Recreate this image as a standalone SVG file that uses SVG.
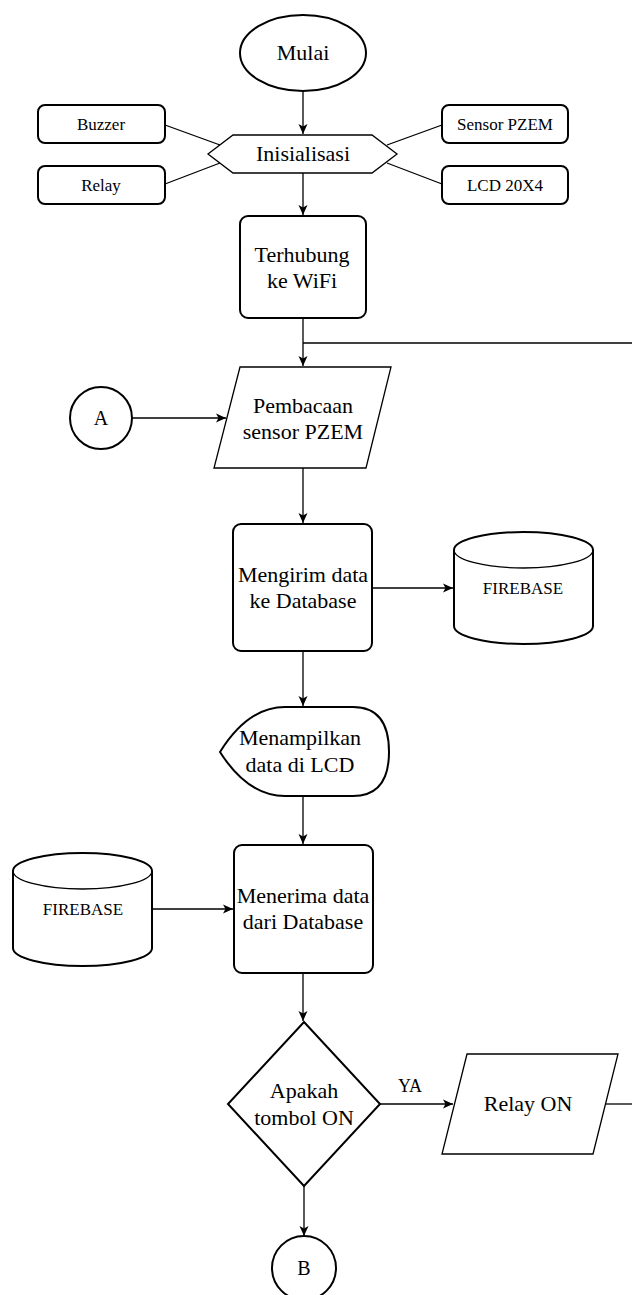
<svg xmlns="http://www.w3.org/2000/svg" width="632" height="1295" viewBox="0 0 632 1295" font-family="'Liberation Serif', 'Times New Roman', serif">
<style>
.s{fill:#fff;stroke:#000;stroke-width:2}
.t{fill:#fff;stroke:#000;stroke-width:1.3}
.c{fill:none;stroke:#000;stroke-width:1.3}
text{font-family:'Liberation Serif','Times New Roman',serif;fill:#000;text-anchor:middle}
.l{font-family:'Liberation Serif','Times New Roman',serif;font-size:22px}
.m{font-family:'Liberation Serif','Times New Roman',serif;font-size:17px}
.k{font-family:'Liberation Serif','Times New Roman',serif;font-size:20px}
</style>
<defs>
<marker id="ar" markerWidth="11" markerHeight="10" refX="10" refY="5" orient="auto" markerUnits="userSpaceOnUse">
<path d="M0,0.5 L10,5 L0,9.5 L2.5,5 Z" fill="#000"/>
</marker>
</defs>
<rect width="632" height="1295" fill="#fff"/>
<g id="connectors">
<line class="c" x1="303" y1="91" x2="303" y2="134" marker-end="url(#ar)"/>
<line class="c" x1="303" y1="173" x2="303" y2="215" marker-end="url(#ar)"/>
<line class="c" x1="165" y1="125" x2="220" y2="145"/>
<line class="c" x1="165" y1="184" x2="220" y2="163"/>
<line class="c" x1="442" y1="125" x2="387" y2="145"/>
<line class="c" x1="442" y1="184" x2="387" y2="163"/>
<line class="c" x1="303" y1="318" x2="303" y2="366" marker-end="url(#ar)"/>
<line class="c" x1="303" y1="343" x2="632" y2="343"/>
<line class="c" x1="132" y1="418" x2="226" y2="418" marker-end="url(#ar)"/>
<line class="c" x1="303" y1="468" x2="303" y2="523" marker-end="url(#ar)"/>
<line class="c" x1="372" y1="588" x2="453" y2="588" marker-end="url(#ar)"/>
<line class="c" x1="303" y1="651" x2="303" y2="706" marker-end="url(#ar)"/>
<line class="c" x1="303" y1="796" x2="303" y2="844" marker-end="url(#ar)"/>
<line class="c" x1="152" y1="909" x2="233" y2="909" marker-end="url(#ar)"/>
<line class="c" x1="303" y1="973" x2="303" y2="1021" marker-end="url(#ar)"/>
<line class="c" x1="380" y1="1104" x2="453" y2="1104" marker-end="url(#ar)"/>
<line class="c" x1="605" y1="1104" x2="632" y2="1104"/>
<line class="c" x1="304" y1="1186" x2="304" y2="1236" marker-end="url(#ar)"/>
<text class="k" x="410" y="1092" style="font-size:18px">YA</text>
</g>
<g id="mulai">
<ellipse class="s" cx="303" cy="53" rx="63" ry="38"/>
<text class="l" x="303" y="60">Mulai</text>
</g>
<g id="inisialisasi">
<polygon class="t" points="208,154 233,135 372,135 397,154 372,173 233,173"/>
<text class="l" x="303" y="161">Inisialisasi</text>
</g>
<g id="buzzer">
<rect class="s" x="38" y="105" width="127" height="38" rx="7"/>
<text class="m" x="101" y="130">Buzzer</text>
</g>
<g id="relay">
<rect class="s" x="38" y="166" width="127" height="38" rx="7"/>
<text class="m" x="101" y="191">Relay</text>
</g>
<g id="sensor-pzem">
<rect class="s" x="442" y="105" width="126" height="38" rx="7"/>
<text class="m" x="505" y="130">Sensor PZEM</text>
</g>
<g id="lcd">
<rect class="s" x="442" y="166" width="126" height="38" rx="7"/>
<text class="m" x="505" y="191">LCD 20X4</text>
</g>
<g id="wifi">
<rect class="s" x="240" y="216" width="126" height="102" rx="8"/>
<text class="l" x="302" y="262">Terhubung</text>
<text class="l" x="302" y="288">ke WiFi</text>
</g>
<g id="a">
<circle class="s" cx="101" cy="418" r="31"/>
<text class="k" x="101" y="425">A</text>
</g>
<g id="pembacaan">
<polygon class="t" points="240,367 391,367 366,468 214,468"/>
<text class="l" x="303" y="413">Pembacaan</text>
<text class="l" x="303" y="439">sensor PZEM</text>
</g>
<g id="mengirim">
<rect class="s" x="233" y="524" width="139" height="127" rx="8"/>
<text class="l" x="303" y="582">Mengirim data</text>
<text class="l" x="303" y="608">ke Database</text>
</g>
<g id="firebase1">
<path class="s" d="M454,550 A69.5,18 0 0 1 593,550 L593,626 A69.5,18 0 0 1 454,626 Z"/>
<path class="c" stroke-width="2" d="M454,550 A69.5,18 0 0 0 593,550"/>
<text class="m" x="523" y="594">FIREBASE</text>
</g>
<g id="menampilkan">
<path class="s" d="M220,752 Q248,707 285,707 L353,707 Q389,707 389,752 Q389,796 353,796 L285,796 Q248,796 220,752 Z"/>
<text class="l" x="300" y="745">Menampilkan</text>
<text class="l" x="300" y="772">data di LCD</text>
</g>
<g id="firebase2">
<path class="s" d="M13,871 A69.5,18 0 0 1 152,871 L152,948 A69.5,18 0 0 1 13,948 Z"/>
<path class="c" stroke-width="2" d="M13,871 A69.5,18 0 0 0 152,871"/>
<text class="m" x="83" y="915">FIREBASE</text>
</g>
<g id="menerima">
<rect class="s" x="234" y="845" width="139" height="128" rx="8"/>
<text class="l" x="303" y="903">Menerima data</text>
<text class="l" x="303" y="929">dari Database</text>
</g>
<g id="decision">
<polygon class="s" points="304,1022 380,1104 304,1186 228,1104"/>
<text class="l" x="304" y="1098">Apakah</text>
<text class="l" x="304" y="1125">tombol ON</text>
</g>
<g id="relay-on">
<polygon class="t" points="467,1054 618,1054 593,1154 442,1154"/>
<text class="l" x="528" y="1111">Relay ON</text>
</g>
<g id="b">
<circle class="s" cx="304" cy="1268" r="32"/>
<text class="k" x="304" y="1275">B</text>
</g>
</svg>
